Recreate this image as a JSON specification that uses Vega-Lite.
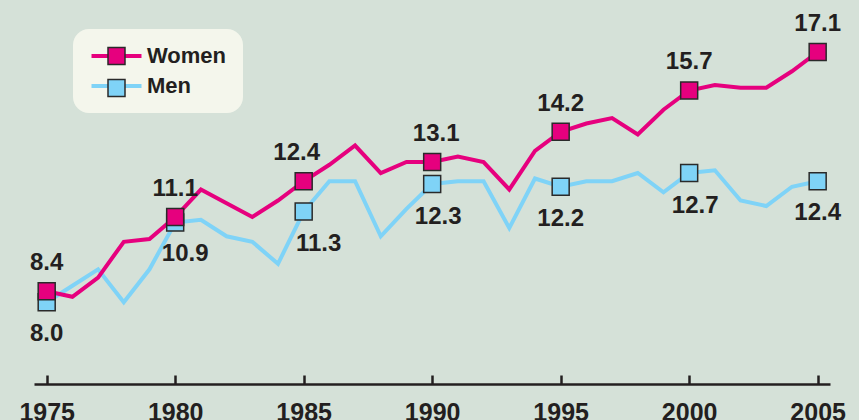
{
  "$schema": "https://vega.github.io/schema/vega-lite/v6.json",
  "width": 796,
  "height": 384,
  "autosize": {"type": "none"},
  "padding": {"left": 34, "top": 0, "right": 29, "bottom": 36},
  "background": "#d5e1d8",
  "config": {"view": {"stroke": null}, "font": "Liberation Sans"},
  "data": {"values": [
    {"year": 1975, "series": "Men", "value": 8.0},
    {"year": 1976, "series": "Men", "value": 8.6},
    {"year": 1977, "series": "Men", "value": 9.2},
    {"year": 1978, "series": "Men", "value": 8.0},
    {"year": 1979, "series": "Men", "value": 9.2},
    {"year": 1980, "series": "Men", "value": 10.9},
    {"year": 1981, "series": "Men", "value": 11.0},
    {"year": 1982, "series": "Men", "value": 10.4},
    {"year": 1983, "series": "Men", "value": 10.2},
    {"year": 1984, "series": "Men", "value": 9.4},
    {"year": 1985, "series": "Men", "value": 11.3},
    {"year": 1986, "series": "Men", "value": 12.4},
    {"year": 1987, "series": "Men", "value": 12.4},
    {"year": 1988, "series": "Men", "value": 10.4},
    {"year": 1989, "series": "Men", "value": 11.4},
    {"year": 1990, "series": "Men", "value": 12.3},
    {"year": 1991, "series": "Men", "value": 12.4},
    {"year": 1992, "series": "Men", "value": 12.4},
    {"year": 1993, "series": "Men", "value": 10.7},
    {"year": 1994, "series": "Men", "value": 12.5},
    {"year": 1995, "series": "Men", "value": 12.2},
    {"year": 1996, "series": "Men", "value": 12.4},
    {"year": 1997, "series": "Men", "value": 12.4},
    {"year": 1998, "series": "Men", "value": 12.7},
    {"year": 1999, "series": "Men", "value": 12.0},
    {"year": 2000, "series": "Men", "value": 12.7},
    {"year": 2001, "series": "Men", "value": 12.8},
    {"year": 2002, "series": "Men", "value": 11.7},
    {"year": 2003, "series": "Men", "value": 11.5},
    {"year": 2004, "series": "Men", "value": 12.2},
    {"year": 2005, "series": "Men", "value": 12.4},
    {"year": 1975, "series": "Women", "value": 8.4},
    {"year": 1976, "series": "Women", "value": 8.2},
    {"year": 1977, "series": "Women", "value": 8.9},
    {"year": 1978, "series": "Women", "value": 10.2},
    {"year": 1979, "series": "Women", "value": 10.3},
    {"year": 1980, "series": "Women", "value": 11.1},
    {"year": 1981, "series": "Women", "value": 12.1},
    {"year": 1982, "series": "Women", "value": 11.6},
    {"year": 1983, "series": "Women", "value": 11.1},
    {"year": 1984, "series": "Women", "value": 11.7},
    {"year": 1985, "series": "Women", "value": 12.4},
    {"year": 1986, "series": "Women", "value": 13.0},
    {"year": 1987, "series": "Women", "value": 13.7},
    {"year": 1988, "series": "Women", "value": 12.7},
    {"year": 1989, "series": "Women", "value": 13.1},
    {"year": 1990, "series": "Women", "value": 13.1},
    {"year": 1991, "series": "Women", "value": 13.3},
    {"year": 1992, "series": "Women", "value": 13.1},
    {"year": 1993, "series": "Women", "value": 12.1},
    {"year": 1994, "series": "Women", "value": 13.5},
    {"year": 1995, "series": "Women", "value": 14.2},
    {"year": 1996, "series": "Women", "value": 14.5},
    {"year": 1997, "series": "Women", "value": 14.7},
    {"year": 1998, "series": "Women", "value": 14.1},
    {"year": 1999, "series": "Women", "value": 15.0},
    {"year": 2000, "series": "Women", "value": 15.7},
    {"year": 2001, "series": "Women", "value": 15.9},
    {"year": 2002, "series": "Women", "value": 15.8},
    {"year": 2003, "series": "Women", "value": 15.8},
    {"year": 2004, "series": "Women", "value": 16.4},
    {"year": 2005, "series": "Women", "value": 17.1}
  ]},
  "encoding": {
    "x": {
      "field": "year", "type": "quantitative",
      "scale": {"domain": [1974.506, 2005.48], "nice": false, "zero": false},
      "axis": {
        "title": null, "values": [1975, 1980, 1985, 1990, 1995, 2000, 2005], "format": "d",
        "grid": false, "domainColor": "#231f20", "domainWidth": 2.5,
        "tickColor": "#231f20", "tickWidth": 2.5, "tickSize": -9,
        "labelFont": "Liberation Sans", "labelFontWeight": "bold", "labelFontSize": 25,
        "labelColor": "#231f20", "labelPadding": 25, "labelBaseline": "top", "labelFlush": false
      }
    },
    "y": {
      "field": "value", "type": "quantitative",
      "scale": {"domain": [5.03, 18.99], "nice": false, "zero": false},
      "axis": null
    }
  },
  "layer": [
    {
      "mark": {"type": "line", "strokeWidth": 4},
      "encoding": {
        "color": {
          "field": "series", "type": "nominal",
          "scale": {"domain": ["Women", "Men"], "range": ["#e6007e", "#7fd3f7"]},
          "legend": {
            "title": null, "orient": "none", "legendX": 39, "legendY": 29,
            "symbolType": "M-2.94,0H2.94", "symbolSize": 289, "symbolStrokeWidth": 4, "symbolOffset": 16.5,
            "labelFont": "Liberation Sans", "labelFontSize": 22, "labelFontWeight": "bold",
            "labelColor": "#231f20", "labelOffset": 19.5, "padding": 16, "rowPadding": 8,
            "fillColor": "#f4f6ec", "cornerRadius": 16, "zindex": 0
          }
        }
      }
    },
    {
      "transform": [{"filter": "datum.year % 5 === 0"}, {"calculate": "datum.series + ' '", "as": "group"}],
      "mark": {"type": "point", "shape": "square", "filled": true, "size": 289, "stroke": "#2a2a2a", "strokeWidth": 1.5, "opacity": 1},
      "encoding": {
        "fill": {
          "field": "group", "type": "nominal",
          "scale": {"domain": ["Women ", "Men "], "range": ["#e6007e", "#7fd3f7"]},
          "legend": {
            "title": null, "orient": "none", "legendX": 39, "legendY": 29,
            "symbolType": "square", "symbolSize": 289, "symbolStrokeColor": "#2a2a2a", "symbolStrokeWidth": 1.5, "symbolOpacity": 1, "symbolOffset": 16.5,
            "labelFont": "Liberation Sans", "labelFontSize": 22, "labelFontWeight": "bold",
            "labelExpr": "''", "labelOffset": 19.5, "padding": 16, "rowPadding": 8, "zindex": 1
          }
        }
      }
    },
    {
      "transform": [{"filter": "datum.year % 5 === 0 && datum.series === 'Women' && datum.year != 1985 && datum.year != 1990"}],
      "mark": {"type": "text", "dy": -28, "font": "Liberation Sans", "fontWeight": "bold", "fontSize": 24, "color": "#231f20"},
      "encoding": {"text": {"field": "value", "type": "quantitative", "format": ".1f"}}
    },
    {
      "transform": [{"filter": "datum.series === 'Women' && datum.year == 1985"}],
      "mark": {"type": "text", "dy": -28, "dx": -7, "font": "Liberation Sans", "fontWeight": "bold", "fontSize": 24, "color": "#231f20"},
      "encoding": {"text": {"field": "value", "type": "quantitative", "format": ".1f"}}
    },
    {
      "transform": [{"filter": "datum.series === 'Women' && datum.year == 1990"}],
      "mark": {"type": "text", "dy": -28, "dx": 4, "font": "Liberation Sans", "fontWeight": "bold", "fontSize": 24, "color": "#231f20"},
      "encoding": {"text": {"field": "value", "type": "quantitative", "format": ".1f"}}
    },
    {
      "transform": [{"filter": "datum.year % 5 === 0 && datum.series === 'Men' && datum.year != 1980 && datum.year != 1985 && datum.year != 1990 && datum.year != 2000"}],
      "mark": {"type": "text", "dy": 32, "font": "Liberation Sans", "fontWeight": "bold", "fontSize": 24, "color": "#231f20"},
      "encoding": {"text": {"field": "value", "type": "quantitative", "format": ".1f"}}
    },
    {
      "transform": [{"filter": "datum.series === 'Men' && datum.year == 1980"}],
      "mark": {"type": "text", "dy": 31, "dx": 10, "font": "Liberation Sans", "fontWeight": "bold", "fontSize": 24, "color": "#231f20"},
      "encoding": {"text": {"field": "value", "type": "quantitative", "format": ".1f"}}
    },
    {
      "transform": [{"filter": "datum.series === 'Men' && datum.year == 1985"}],
      "mark": {"type": "text", "dy": 32, "dx": 15, "font": "Liberation Sans", "fontWeight": "bold", "fontSize": 24, "color": "#231f20"},
      "encoding": {"text": {"field": "value", "type": "quantitative", "format": ".1f"}}
    },
    {
      "transform": [{"filter": "datum.series === 'Men' && (datum.year == 1990 || datum.year == 2000)"}],
      "mark": {"type": "text", "dy": 33, "dx": 6, "font": "Liberation Sans", "fontWeight": "bold", "fontSize": 24, "color": "#231f20"},
      "encoding": {"text": {"field": "value", "type": "quantitative", "format": ".1f"}}
    }
  ]
}
